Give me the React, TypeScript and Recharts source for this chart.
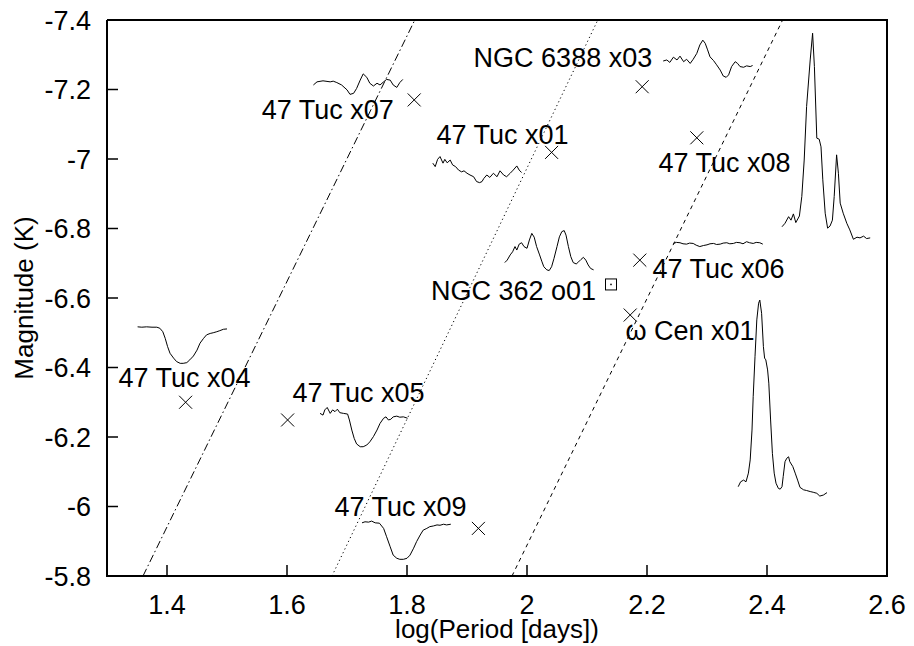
import { ComposedChart, XAxis, YAxis, Line, Scatter } from "recharts";

const FONT = '"Liberation Sans", Arial, Helvetica, sans-serif';

const X_DOMAIN: [number, number] = [1.3, 2.6];
const Y_DOMAIN: [number, number] = [-7.4, -5.8];
const X_TICKS = [1.4, 1.6, 1.8, 2, 2.2, 2.4, 2.6];
const Y_TICKS = [-7.4, -7.2, -7, -6.8, -6.6, -6.4, -6.2, -6, -5.8];

// variables: log P and K magnitude
const STAR_NAMES = ["47 Tuc x07", "NGC 6388 x03", "47 Tuc x01", "47 Tuc x08", "47 Tuc x06", "\u03c9 Cen x01", "47 Tuc x04", "47 Tuc x05", "47 Tuc x09"];
const STAR_LOGP = [1.812, 2.192, 2.041, 2.283, 2.188, 2.172, 1.431, 1.601, 1.919];
const STAR_MAG = [-7.17, -7.208, -7.019, -7.061, -6.709, -6.551, -6.3, -6.249, -5.937];

// the one point drawn as a box
const SQUARE_NAME = "NGC 362 o01";
const SQUARE_LOGP = 2.14;
const SQUARE_MAG = -6.639;

// label anchors (text start, baseline), data units
const LABEL_TEXT = ["47 Tuc x07", "NGC 6388 x03", "47 Tuc x01", "47 Tuc x08", "47 Tuc x06", "NGC 362 o01", "\u03c9 Cen x01", "47 Tuc x04", "47 Tuc x05", "47 Tuc x09"];
const LABEL_X = [1.558, 1.911, 1.849, 2.219, 2.209, 1.840, 2.164, 1.319, 1.609, 1.679];
const LABEL_Y = [-7.115, -7.266, -7.043, -6.962, -6.657, -6.594, -6.479, -6.343, -6.302, -5.973];

// period-luminosity relations
const PL_DASHDOT: [number, number][] = [[1.36, -5.8], [1.813, -7.4]];
const PL_DOTTED: [number, number][] = [[1.675, -5.8], [2.118, -7.4]];
const PL_DASHED: [number, number][] = [[1.975, -5.8], [2.426, -7.4]];

// small light-curve insets, drawn in plot units
const CURVE_X07: [number, number][] = [
  [1.644, -7.213], [1.650, -7.222], [1.660, -7.225], [1.672, -7.222], [1.677, -7.224], [1.683, -7.220], [1.691, -7.213],
  [1.700, -7.199], [1.705, -7.186], [1.711, -7.189], [1.716, -7.203], [1.722, -7.227], [1.727, -7.245], [1.733, -7.235],
  [1.738, -7.218], [1.744, -7.210], [1.750, -7.218], [1.755, -7.213], [1.761, -7.222], [1.766, -7.229], [1.772, -7.227],
  [1.777, -7.213], [1.783, -7.206], [1.788, -7.220], [1.793, -7.229],
];
const CURVE_X01: [number, number][] = [
  [1.843, -6.988], [1.847, -6.978], [1.851, -6.999], [1.855, -7.007], [1.860, -6.988], [1.863, -6.999], [1.867, -6.989],
  [1.872, -6.997], [1.876, -6.983], [1.881, -6.978], [1.886, -6.968], [1.891, -6.963], [1.895, -6.966], [1.900, -6.959],
  [1.905, -6.954], [1.911, -6.949], [1.916, -6.935], [1.921, -6.932], [1.925, -6.935], [1.928, -6.944], [1.933, -6.954],
  [1.938, -6.947], [1.944, -6.959], [1.950, -6.949], [1.955, -6.966], [1.961, -6.954], [1.966, -6.949], [1.972, -6.959],
  [1.977, -6.968], [1.983, -6.980], [1.987, -6.968], [1.991, -6.961],
];
const CURVE_X03: [number, number][] = [
  [2.227, -7.282], [2.233, -7.285], [2.238, -7.278], [2.244, -7.293], [2.250, -7.285], [2.255, -7.296], [2.261, -7.280],
  [2.266, -7.287], [2.272, -7.275], [2.277, -7.287], [2.283, -7.304], [2.288, -7.328], [2.293, -7.342], [2.297, -7.333],
  [2.301, -7.314], [2.305, -7.294], [2.311, -7.283], [2.316, -7.271], [2.322, -7.256], [2.327, -7.239], [2.332, -7.235],
  [2.336, -7.242], [2.341, -7.266], [2.347, -7.280], [2.351, -7.275], [2.355, -7.266], [2.361, -7.264], [2.366, -7.268],
  [2.372, -7.266], [2.376, -7.269],
];
const CURVE_X08: [number, number][] = [
  [2.425, -6.805], [2.430, -6.815], [2.436, -6.834], [2.440, -6.824], [2.444, -6.842], [2.448, -6.817], [2.454, -6.836],
  [2.458, -6.892], [2.462, -6.997], [2.466, -7.151], [2.472, -7.285], [2.476, -7.362], [2.479, -7.266], [2.483, -7.060],
  [2.487, -7.057], [2.490, -7.035], [2.493, -6.940], [2.497, -6.844], [2.501, -6.801], [2.505, -6.807], [2.509, -6.824],
  [2.512, -6.892], [2.516, -7.012], [2.519, -6.959], [2.522, -6.873], [2.527, -6.844], [2.533, -6.815], [2.538, -6.796],
  [2.544, -6.769], [2.550, -6.775], [2.555, -6.773], [2.561, -6.778], [2.566, -6.771], [2.572, -6.773],
];
const CURVE_X06: [number, number][] = [
  [2.244, -6.757], [2.249, -6.760], [2.255, -6.759], [2.260, -6.756], [2.266, -6.755], [2.271, -6.758], [2.277, -6.757],
  [2.282, -6.752], [2.288, -6.748], [2.294, -6.751], [2.300, -6.753], [2.305, -6.756], [2.311, -6.757], [2.316, -6.754],
  [2.322, -6.755], [2.327, -6.758], [2.333, -6.759], [2.338, -6.756], [2.344, -6.757], [2.349, -6.760], [2.355, -6.759],
  [2.360, -6.756], [2.366, -6.762], [2.371, -6.759], [2.377, -6.757], [2.382, -6.760], [2.388, -6.759], [2.393, -6.755],
];
const CURVE_O01: [number, number][] = [
  [1.963, -6.702], [1.967, -6.709], [1.972, -6.724], [1.976, -6.733], [1.980, -6.748], [1.983, -6.738], [1.987, -6.755],
  [1.991, -6.759], [1.995, -6.748], [2.000, -6.743], [2.004, -6.767], [2.008, -6.786], [2.012, -6.775], [2.016, -6.748],
  [2.021, -6.724], [2.025, -6.704], [2.028, -6.690], [2.033, -6.681], [2.037, -6.679], [2.041, -6.690], [2.045, -6.714],
  [2.050, -6.748], [2.054, -6.776], [2.058, -6.791], [2.062, -6.794], [2.065, -6.781], [2.069, -6.748], [2.073, -6.719],
  [2.077, -6.702], [2.082, -6.698], [2.086, -6.704], [2.090, -6.711], [2.094, -6.717], [2.098, -6.709], [2.102, -6.695],
  [2.106, -6.685], [2.111, -6.681],
];
const CURVE_X04: [number, number][] = [
  [1.351, -6.517], [1.358, -6.516], [1.366, -6.517], [1.375, -6.516], [1.383, -6.516], [1.388, -6.513], [1.393, -6.503],
  [1.397, -6.484], [1.401, -6.460], [1.405, -6.441], [1.411, -6.427], [1.416, -6.417], [1.422, -6.412], [1.427, -6.412],
  [1.433, -6.414], [1.438, -6.422], [1.444, -6.433], [1.450, -6.450], [1.455, -6.470], [1.461, -6.484], [1.466, -6.494],
  [1.472, -6.498], [1.477, -6.500], [1.483, -6.503], [1.488, -6.506], [1.494, -6.510], [1.500, -6.511],
];
const CURVE_X05: [number, number][] = [
  [1.655, -6.268], [1.660, -6.263], [1.663, -6.278], [1.667, -6.285], [1.672, -6.268], [1.676, -6.278], [1.680, -6.273],
  [1.684, -6.280], [1.688, -6.270], [1.694, -6.268], [1.701, -6.266], [1.704, -6.249], [1.708, -6.220], [1.712, -6.196],
  [1.716, -6.180], [1.722, -6.172], [1.727, -6.172], [1.733, -6.177], [1.738, -6.186], [1.744, -6.201], [1.750, -6.220],
  [1.755, -6.239], [1.761, -6.254], [1.765, -6.258], [1.769, -6.249], [1.773, -6.251], [1.777, -6.258], [1.783, -6.260],
  [1.788, -6.257], [1.794, -6.258], [1.801, -6.254],
];
const CURVE_X09: [number, number][] = [
  [1.725, -5.953], [1.730, -5.956], [1.736, -5.955], [1.741, -5.958], [1.747, -5.953], [1.754, -5.952], [1.761, -5.937],
  [1.766, -5.913], [1.772, -5.884], [1.777, -5.860], [1.783, -5.851], [1.788, -5.848], [1.794, -5.848], [1.800, -5.851],
  [1.805, -5.860], [1.811, -5.880], [1.816, -5.899], [1.822, -5.918], [1.827, -5.932], [1.833, -5.937], [1.838, -5.942],
  [1.844, -5.944], [1.850, -5.947], [1.855, -5.946], [1.861, -5.949], [1.866, -5.947], [1.873, -5.949],
];
const CURVE_OCEN: [number, number][] = [
  [2.352, -6.057], [2.356, -6.071], [2.361, -6.076], [2.365, -6.071], [2.369, -6.096], [2.372, -6.134], [2.375, -6.220],
  [2.377, -6.316], [2.380, -6.431], [2.383, -6.537], [2.386, -6.585], [2.388, -6.594], [2.391, -6.556], [2.394, -6.460],
  [2.396, -6.427], [2.398, -6.422], [2.401, -6.393], [2.403, -6.355], [2.406, -6.249], [2.409, -6.153], [2.412, -6.096],
  [2.415, -6.067], [2.419, -6.052], [2.422, -6.050], [2.425, -6.057], [2.427, -6.086], [2.430, -6.129], [2.433, -6.139],
  [2.436, -6.143], [2.438, -6.129], [2.443, -6.115], [2.447, -6.096], [2.451, -6.076], [2.455, -6.055], [2.461, -6.048],
  [2.466, -6.046], [2.472, -6.043], [2.477, -6.041], [2.483, -6.038], [2.488, -6.030], [2.494, -6.033], [2.500, -6.040],
];

const CURVES = [CURVE_X07, CURVE_X01, CURVE_X03, CURVE_X08, CURVE_X06, CURVE_O01, CURVE_X04, CURVE_X05, CURVE_X09, CURVE_OCEN];

// plot border, traced through the domain corners
const FRAME: [number, number][] = [
  [X_DOMAIN[0], Y_DOMAIN[0]], [X_DOMAIN[1], Y_DOMAIN[0]], [X_DOMAIN[1], Y_DOMAIN[1]], [X_DOMAIN[0], Y_DOMAIN[1]], [X_DOMAIN[0], Y_DOMAIN[0]],
];

const pts = (pairs: [number, number][]) => pairs.map(([x, y]) => ({ x, y }));

const stars = STAR_NAMES.map((name, i) => ({ name, x: STAR_LOGP[i], y: STAR_MAG[i] }));
const square = [{ name: SQUARE_NAME, x: SQUARE_LOGP, y: SQUARE_MAG }];
const labels = LABEL_TEXT.map((text, i) => ({ text, x: LABEL_X[i], y: LABEL_Y[i] }));

const TICK_LEN = 11;
const LEFT_GAP = 16;
const BOTTOM_GAP = 19;

function Cross(p: any) {
  const { cx, cy } = p;
  const s = 6.5;
  return (
    <path
      d={`M${cx - s},${cy - s}L${cx + s},${cy + s}M${cx - s},${cy + s}L${cx + s},${cy - s}`}
      stroke="#000"
      strokeWidth={1}
      fill="none"
    />
  );
}

function Box(p: any) {
  const { cx, cy } = p;
  return (
    <g>
      <rect x={cx - 5.5} y={cy - 5.5} width={11} height={11} fill="none" stroke="#000" strokeWidth={1} />
      <rect x={cx - 0.75} y={cy - 0.75} width={1.5} height={1.5} fill="#000" />
    </g>
  );
}

function Tag(p: any) {
  return (
    <text x={p.cx} y={p.cy} fontSize={27} fontFamily={FONT} fill="#000">
      {p.payload.text}
    </text>
  );
}

// inward ticks, gnuplot style
function BottomTick(p: any) {
  const { x, y, payload } = p;
  const ay = y - BOTTOM_GAP;
  return (
    <g>
      <line x1={x} y1={ay} x2={x} y2={ay - TICK_LEN} stroke="#000" strokeWidth={1.5} />
      <text x={x} y={y} dy="0.71em" textAnchor="middle" fontSize={27} fontFamily={FONT} fill="#000">
        {payload.value}
      </text>
    </g>
  );
}

function LeftTick(p: any) {
  const { x, y, payload } = p;
  const ax = x + LEFT_GAP;
  return (
    <g>
      <line x1={ax} y1={y} x2={ax + TICK_LEN} y2={y} stroke="#000" strokeWidth={1.5} />
      <text x={x} y={y} dy="0.355em" textAnchor="end" fontSize={27} fontFamily={FONT} fill="#000">
        {payload.value}
      </text>
    </g>
  );
}

function TopTick(p: any) {
  const { x, y } = p;
  return <line x1={x} y1={y} x2={x} y2={y + TICK_LEN} stroke="#000" strokeWidth={1.5} />;
}

function RightTick(p: any) {
  const { x, y } = p;
  return <line x1={x} y1={y} x2={x - TICK_LEN} y2={y} stroke="#000" strokeWidth={1.5} />;
}

function XLabel(props: any) {
  const vb = props.viewBox;
  return (
    <text x={vb.x + vb.width / 2} y={638} textAnchor="middle" fontSize={26} fontFamily={FONT} fill="#000">
      log(Period [days])
    </text>
  );
}

function YLabel(props: any) {
  const vb = props.viewBox;
  const cx = 33;
  const cy = vb.y + vb.height / 2;
  return (
    <text x={cx} y={cy} transform={`rotate(-90, ${cx}, ${cy})`} textAnchor="middle" fontSize={26} fontFamily={FONT} fill="#000">
      Magnitude (K)
    </text>
  );
}

const axisLine = { stroke: "#000", strokeWidth: 2 };

export default function App() {
  return (
    <div style={{ position: "absolute", left: 0, top: 0 }}>
      <ComposedChart width={914} height={646} margin={{ top: 19, right: 0, bottom: 0, left: 0 }}>
        <XAxis xAxisId="b" type="number" dataKey="x" domain={X_DOMAIN} ticks={X_TICKS} interval={0} height={70}
          tickSize={0} tickMargin={BOTTOM_GAP} axisLine={axisLine} tickLine={false} tick={BottomTick} label={XLabel} />
        <XAxis xAxisId="t" orientation="top" type="number" dataKey="x" domain={X_DOMAIN} ticks={X_TICKS} interval={0}
          height={1} tickSize={0} tickMargin={0} axisLine={axisLine} tickLine={false} tick={TopTick} />
        <YAxis yAxisId="l" type="number" dataKey="y" domain={Y_DOMAIN} reversed ticks={Y_TICKS} interval={0} width={107}
          tickSize={0} tickMargin={LEFT_GAP} axisLine={axisLine} tickLine={false} tick={LeftTick} label={YLabel} />
        <YAxis yAxisId="r" orientation="right" type="number" dataKey="y" domain={Y_DOMAIN} reversed ticks={Y_TICKS} interval={0}
          width={27} tickSize={0} tickMargin={0} axisLine={axisLine} tickLine={false} tick={RightTick} />

        <Line xAxisId="b" yAxisId="l" data={pts(FRAME)} dataKey="y" type="linear" stroke="#000" strokeWidth={2}
          dot={false} activeDot={false} isAnimationActive={false} />

        <Line xAxisId="b" yAxisId="l" data={pts(PL_DASHDOT)} dataKey="y" type="linear" stroke="#000" strokeWidth={1}
          strokeDasharray="8 3 1.5 3" dot={false} activeDot={false} isAnimationActive={false} />
        <Line xAxisId="b" yAxisId="l" data={pts(PL_DOTTED)} dataKey="y" type="linear" stroke="#000" strokeWidth={1}
          strokeDasharray="1.2 3" dot={false} activeDot={false} isAnimationActive={false} />
        <Line xAxisId="b" yAxisId="l" data={pts(PL_DASHED)} dataKey="y" type="linear" stroke="#000" strokeWidth={1}
          strokeDasharray="4 4" dot={false} activeDot={false} isAnimationActive={false} />

        {CURVES.map((c, i) => (
          <Line key={i} xAxisId="b" yAxisId="l" data={pts(c)} dataKey="y" type="linear" stroke="#000" strokeWidth={1}
            dot={false} activeDot={false} isAnimationActive={false} />
        ))}

        <Scatter xAxisId="b" yAxisId="l" data={stars} dataKey="y" shape={Cross} isAnimationActive={false} />
        <Scatter xAxisId="b" yAxisId="l" data={square} dataKey="y" shape={Box} isAnimationActive={false} />
        <Scatter xAxisId="b" yAxisId="l" data={labels} dataKey="y" shape={Tag} isAnimationActive={false} />
      </ComposedChart>
    </div>
  );
}
